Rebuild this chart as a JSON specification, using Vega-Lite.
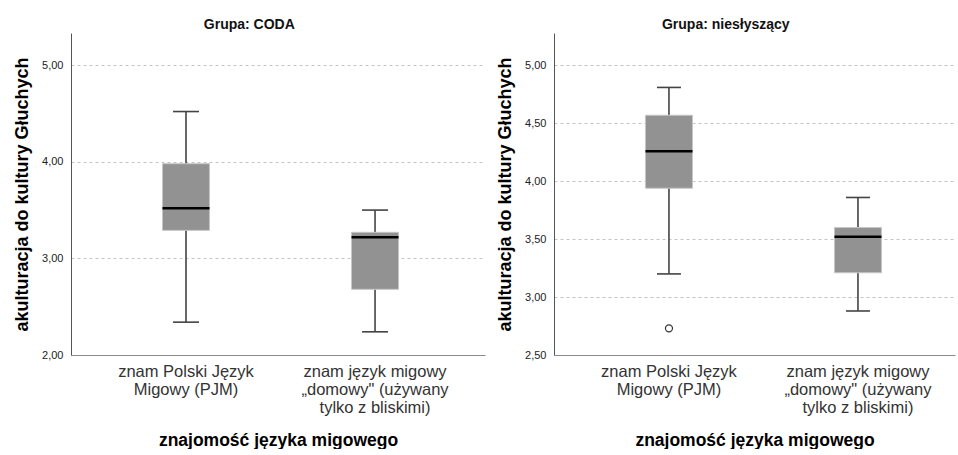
{
  "$schema": "https://vega.github.io/schema/vega-lite/v6.json",
  "background": "white",
  "padding": {"left": 13, "top": 18, "right": 1, "bottom": 0},
  "spacing": 11,
  "config": {
    "font": "Liberation Sans",
    "view": {"stroke": null},
    "title": {"fontSize": 14, "fontWeight": "bold", "color": "#111", "anchor": "middle", "frame": "bounds", "offset": 1},
    "axisY": {
      "ticks": false, "domainColor": "#555", "domainWidth": 1,
      "labelFontSize": 11, "labelColor": "#222", "labelPadding": 8,
      "grid": true, "gridColor": "#c4c4c4", "gridDash": [3, 3], "gridWidth": 1,
      "titleFontSize": 18, "titleFontWeight": "bold", "titleColor": "#000", "titlePadding": 10
    },
    "axisX": {
      "ticks": false, "domainColor": "#8a8a8a", "domainWidth": 1, "grid": false,
      "labelAngle": 0, "labelFontSize": 16.5, "labelLineHeight": 18, "labelColor": "#333",
      "labelPadding": 8, "labelLimit": 0,
      "titleFontSize": 17.5, "titleFontWeight": "bold", "titleColor": "#000", "titlePadding": 16
    }
  },
  "datasets": {
    "stats": [
      {"grupa": "CODA", "znajomosc": "znam Polski Język Migowy (PJM)", "min": 2.34, "q1": 3.29, "median": 3.52, "q3": 3.98, "max": 4.52},
      {"grupa": "CODA", "znajomosc": "znam język migowy „domowy\" (używany tylko z bliskimi)", "min": 2.24, "q1": 2.68, "median": 3.22, "q3": 3.27, "max": 3.5},
      {"grupa": "niesłyszący", "znajomosc": "znam Polski Język Migowy (PJM)", "min": 3.2, "q1": 3.94, "median": 4.26, "q3": 4.57, "max": 4.81},
      {"grupa": "niesłyszący", "znajomosc": "znam język migowy „domowy\" (używany tylko z bliskimi)", "min": 2.88, "q1": 3.21, "median": 3.52, "q3": 3.6, "max": 3.86}
    ],
    "outliers": [
      {"grupa": "niesłyszący", "znajomosc": "znam Polski Język Migowy (PJM)", "value": 2.73}
    ]
  },
  "hconcat": [
    {
      "width": 414,
      "height": 322,
      "title": "Grupa: CODA",
      "data": {"name": "stats"},
      "transform": [{"filter": "datum.grupa === 'CODA'"}],
      "encoding": {
        "x": {
          "field": "znajomosc", "type": "nominal",
          "sort": ["znam Polski Język Migowy (PJM)", "znam język migowy „domowy\" (używany tylko z bliskimi)"],
          "scale": {"paddingInner": 0, "paddingOuter": 0.095, "align": 0.57},
          "title": "znajomość języka migowego",
          "axis": {"labelExpr": "datum.value == 'znam Polski Język Migowy (PJM)' ? ['znam Polski Język', 'Migowy (PJM)'] : ['znam język migowy', '„domowy\" (używany', 'tylko z bliskimi)']"}
        }
      },
      "layer": [
        {
          "mark": {"type": "rule", "color": "#444", "strokeWidth": 1.6},
          "encoding": {
            "y": {"field": "min", "type": "quantitative", "title": "akulturacja do kultury Głuchych",
              "scale": {"domain": [2, 5.333], "nice": false, "zero": false},
              "axis": {"values": [2, 3, 4, 5], "labelExpr": "replace(format(datum.value, '.2f'), '.', ',')"}},
            "y2": {"field": "max"}
          }
        },
        {
          "mark": {"type": "bar", "size": 47, "fill": "#929292", "stroke": "#c6c6c6", "strokeWidth": 1},
          "encoding": {
            "y": {"field": "q1", "type": "quantitative", "title": "akulturacja do kultury Głuchych"},
            "y2": {"field": "q3"}
          }
        },
        {
          "mark": {"type": "tick", "size": 47, "thickness": 2.5, "color": "#000", "opacity": 1},
          "encoding": {"y": {"field": "median", "type": "quantitative", "title": "akulturacja do kultury Głuchych"}}
        },
        {
          "mark": {"type": "tick", "size": 26, "thickness": 1.6, "color": "#444", "opacity": 1},
          "encoding": {"y": {"field": "min", "type": "quantitative", "title": "akulturacja do kultury Głuchych"}}
        },
        {
          "mark": {"type": "tick", "size": 26, "thickness": 1.6, "color": "#444", "opacity": 1},
          "encoding": {"y": {"field": "max", "type": "quantitative", "title": "akulturacja do kultury Głuchych"}}
        }
      ]
    },
    {
      "width": 401,
      "height": 322,
      "title": "Grupa: niesłyszący",
      "data": {"name": "stats"},
      "transform": [{"filter": "datum.grupa === 'niesłyszący'"}],
      "encoding": {
        "x": {
          "field": "znajomosc", "type": "nominal",
          "sort": ["znam Polski Język Migowy (PJM)", "znam język migowy „domowy\" (używany tylko z bliskimi)"],
          "scale": {"paddingInner": 0, "paddingOuter": 0.0608, "align": 0.89},
          "title": "znajomość języka migowego",
          "axis": {"labelExpr": "datum.value == 'znam Polski Język Migowy (PJM)' ? ['znam Polski Język', 'Migowy (PJM)'] : ['znam język migowy', '„domowy\" (używany', 'tylko z bliskimi)']"}
        }
      },
      "layer": [
        {
          "mark": {"type": "rule", "color": "#444", "strokeWidth": 1.6},
          "encoding": {
            "y": {"field": "min", "type": "quantitative", "title": "akulturacja do kultury Głuchych",
              "scale": {"domain": [2.5, 5.28], "nice": false, "zero": false},
              "axis": {"values": [2.5, 3, 3.5, 4, 4.5, 5], "labelExpr": "replace(format(datum.value, '.2f'), '.', ',')"}},
            "y2": {"field": "max"}
          }
        },
        {
          "mark": {"type": "bar", "size": 47, "fill": "#929292", "stroke": "#c6c6c6", "strokeWidth": 1},
          "encoding": {
            "y": {"field": "q1", "type": "quantitative", "title": "akulturacja do kultury Głuchych"},
            "y2": {"field": "q3"}
          }
        },
        {
          "mark": {"type": "tick", "size": 47, "thickness": 2.5, "color": "#000", "opacity": 1},
          "encoding": {"y": {"field": "median", "type": "quantitative", "title": "akulturacja do kultury Głuchych"}}
        },
        {
          "mark": {"type": "tick", "size": 24, "thickness": 1.6, "color": "#444", "opacity": 1},
          "encoding": {"y": {"field": "min", "type": "quantitative", "title": "akulturacja do kultury Głuchych"}}
        },
        {
          "mark": {"type": "tick", "size": 24, "thickness": 1.6, "color": "#444", "opacity": 1},
          "encoding": {"y": {"field": "max", "type": "quantitative", "title": "akulturacja do kultury Głuchych"}}
        },
        {
          "data": {"name": "outliers"},
          "mark": {"type": "point", "shape": "circle", "filled": false, "size": 50, "stroke": "#333", "strokeWidth": 1.2, "opacity": 1},
          "encoding": {"y": {"field": "value", "type": "quantitative", "title": "akulturacja do kultury Głuchych"}}
        }
      ]
    }
  ]
}
